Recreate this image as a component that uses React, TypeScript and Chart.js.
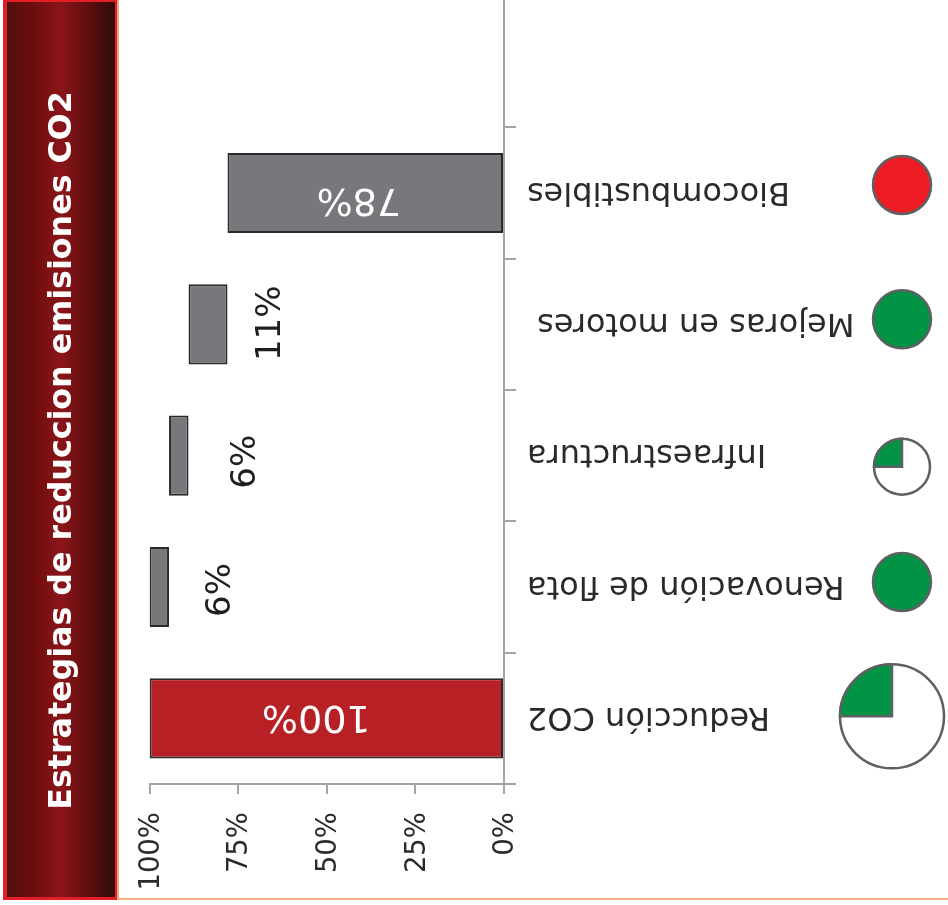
import React, { useEffect, useRef } from "react";
import { Chart, registerables } from "chart.js";

Chart.register(...registerables);

const categories = ["", "Biocombustibles", "Mejoras en motores ", "Infraestructura", "Renovación de flota", "Reducción CO2"];
const barStart = [null, 0, 78, 89, 94.5, 0];
const barEnd = [null, 78, 89, 94.5, 100, 100];
const barLabels = ["", "78%", "11%", "6%", "6%", "100%"];
const harveyFill = [0, 1, 1, 0.25, 1, 0.25];
const harveyColor = ["", "#ed1c24", "#009444", "#009444", "#009444", "#009444"];
const titleText = "Estrategias de reduccion emisiones CO2";

const FONT = '"DejaVu Sans"';
const GREY_AXIS = "#a3a3a8";

// style of each value label, relative to its bar
const labelStyle = [
  null,
  { dx: -6.5, dy: 6, rot: Math.PI, size: 38 },
  { dx: 63, dy: -1, rot: -Math.PI / 2, size: 34 },
  { dx: 67.5, dy: 6, rot: -Math.PI / 2, size: 34 },
  { dx: 62, dy: 3, rot: -Math.PI / 2, size: 34 },
  { dx: -10, dy: -2, rot: Math.PI, size: 38 },
];
// style of each ball, relative to its category band
const ballStyle = [
  null,
  { x: 902, dy: -8, r: 29 },
  { x: 902, dy: -5, r: 29 },
  { x: 902, dy: 11, r: 28 },
  { x: 902, dy: -5, r: 29 },
  { x: 892, dy: -2, r: 52 },
];

const valueLabels = {
  id: "valueLabels",
  afterDatasetsDraw(chart: any) {
    const { ctx } = chart;
    chart.getDatasetMeta(0).data.forEach((bar: any, i: number) => {
      const st = labelStyle[i];
      if (!st) return;
      const inside = st.size === 38;
      const cx = (bar.x + bar.base) / 2;
      ctx.save();
      ctx.translate(cx + st.dx, bar.y + st.dy);
      ctx.rotate(st.rot);
      ctx.font = `${st.size}px ${FONT}`;
      ctx.textAlign = "center";
      ctx.textBaseline = "middle";
      ctx.fillStyle = inside ? "#ffffff" : "#1f1f1f";
      ctx.fillText(barLabels[i], 0, 0);
      ctx.restore();
    });
  },
};

const harveyBalls = {
  id: "harveyBalls",
  afterDraw(chart: any) {
    const { ctx } = chart;
    const y = chart.scales.y;
    ballStyle.forEach((st, i) => {
      if (!st) return;
      const cy = y.getPixelForValue(i) + st.dy;
      ctx.save();
      ctx.lineWidth = 2.5;
      ctx.strokeStyle = "#5f6062";
      ctx.fillStyle = "#ffffff";
      ctx.beginPath();
      ctx.arc(st.x, cy, st.r, 0, Math.PI * 2);
      ctx.fill();
      if (harveyFill[i] >= 1) {
        ctx.fillStyle = harveyColor[i];
        ctx.fill();
        ctx.stroke();
      } else {
        ctx.stroke();
        ctx.fillStyle = harveyColor[i];
        ctx.beginPath();
        ctx.moveTo(st.x, cy);
        ctx.arc(st.x, cy, st.r, Math.PI, Math.PI + Math.PI * 2 * harveyFill[i]);
        ctx.closePath();
        ctx.fill();
        ctx.stroke();
      }
      ctx.restore();
    });
  },
};

export default function App() {
  const ref = useRef<HTMLCanvasElement>(null);
  useEffect(() => {
    const chart = new Chart(ref.current as HTMLCanvasElement, {
      type: "bar",
      data: {
        labels: categories,
        datasets: [
          {
            data: barStart.map((s, i) => (s === null ? null : [s, barEnd[i]])) as any,
            backgroundColor: categories.map((_, i) => (i === 5 ? "#b72025" : "#77787b")),
            borderColor: "#2a2a2a",
            borderWidth: 2,
            borderSkipped: false,
            barPercentage: 0.61,
            categoryPercentage: 1,
          },
        ],
      },
      plugins: [valueLabels, harveyBalls],
      options: {
        indexAxis: "y",
        animation: false,
        responsive: false,
        layout: { padding: 0 },
        plugins: {
          legend: { display: false },
          tooltip: { enabled: false },
          title: {
            display: true,
            text: titleText,
            position: "left",
            color: "#ffffff",
            font: { family: FONT, size: 31.7, weight: "bold", lineHeight: 1.2 },
            padding: { top: 44, bottom: 67.5 },
          },
        },
        scales: {
          x: {
            type: "linear",
            reverse: true,
            min: 0,
            max: 100,
            position: "bottom",
            afterFit(s: any) {
              s.height = 121;
            },
            border: { display: true, color: GREY_AXIS, width: 2 },
            grid: { drawOnChartArea: false, drawTicks: true, tickLength: 10, color: GREY_AXIS, lineWidth: 2 },
            ticks: {
              stepSize: 25,
              minRotation: 90,
              maxRotation: 90,
              padding: 18,
              labelOffset: 2,
              color: "#2a2a2a",
              font: { family: FONT, size: 27.5 },
              callback: (v: any) => `${v}%`,
            },
          },
          y: {
            type: "category",
            position: "right",
            afterFit(s: any) {
              s.width = 444;
              s.paddingTop = 0;
              s.paddingBottom = 0;
            },
            border: { display: true, color: GREY_AXIS, width: 2, z: 2 },
            grid: { drawOnChartArea: false, drawTicks: true, tickLength: 12, color: GREY_AXIS, lineWidth: 2, offset: true },
            ticks: {
              autoSkip: false,
              minRotation: 180,
              maxRotation: 180,
              mirror: true,
              crossAlign: "near",
              padding: 23,
              labelOffset: -2,
              color: "#2a2a2a",
              font: { family: FONT, size: 32 },
            },
          },
        },
      } as any,
    });
    return () => chart.destroy();
  }, []);

  return (
    <div>
      <div
        style={{
          position: "fixed",
          left: 3,
          top: 0,
          width: 108,
          height: 895,
          borderStyle: "solid",
          borderColor: "#e21f26",
          borderWidth: "2px 2px 3px 4px",
          background:
            "linear-gradient(to right, #4f1010 0%, #6f0d0e 25%, #8a1519 50%, #600d0e 75%, #2e0c0c 100%)",
        }}
      />
      <div style={{ position: "fixed", left: 117, top: 0, width: 2, height: 900, background: "#f6a67a" }} />
      <div style={{ position: "fixed", left: 117, top: 898, width: 831, height: 2, background: "#f6b083" }} />
      <canvas
        ref={ref}
        width={948}
        height={909}
        style={{ position: "fixed", left: 0, top: -4, width: 948, height: 909, display: "block" }}
      />
    </div>
  );
}
